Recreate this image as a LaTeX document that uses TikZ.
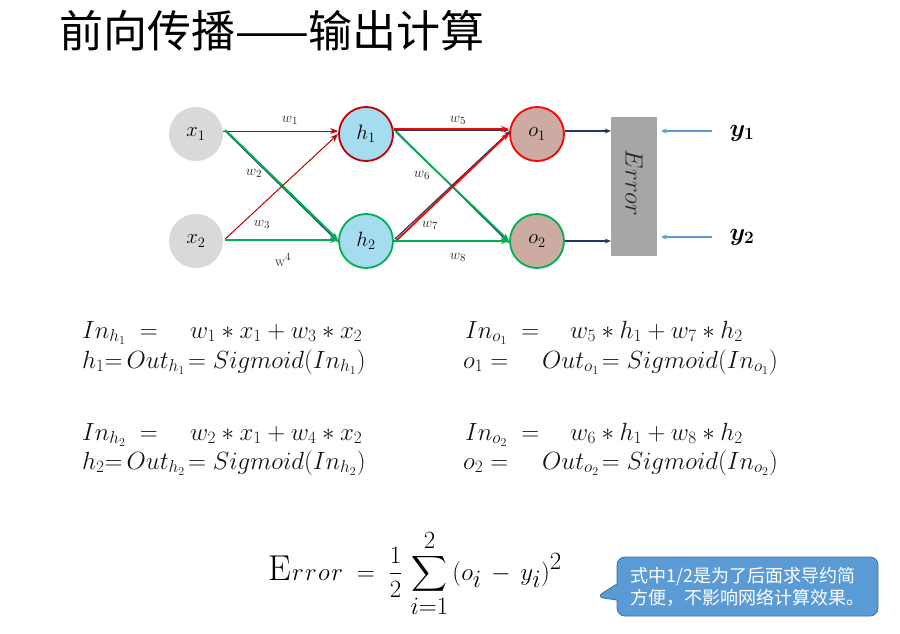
\documentclass[tikz,border=0pt]{standalone}
\usepackage{amsmath,bm}
\usepackage{fontspec}
\newfontfamily\cjk{Noto Sans CJK SC}
\usetikzlibrary{arrows.meta,shapes.callouts}
\definecolor{cgray}{RGB}{217,217,217}
\definecolor{hblue}{RGB}{166,220,240}
\definecolor{orose}{RGB}{204,172,162}
\definecolor{dred}{RGB}{192,0,0}
\definecolor{bred}{RGB}{255,0,0}
\definecolor{gr}{RGB}{0,176,80}
\definecolor{navy}{RGB}{31,56,100}
\definecolor{errgray}{RGB}{166,166,166}
\definecolor{lblue}{RGB}{91,155,213}
\definecolor{cobord}{RGB}{65,113,156}
\definecolor{eqtext}{RGB}{20,20,20}
\begin{document}
\begin{tikzpicture}[x=1pt,y=-1pt]
\tikzset{
  neuron/.style={circle, minimum size=54pt, inner sep=0pt, font=\fontsize{22}{26}\selectfont},
  wlab/.style={font=\fontsize{15}{17}\selectfont, text=black!85, inner sep=0pt},
  eq/.style={anchor=base west, inner sep=0pt, font=\fontsize{23}{27}\selectfont, text=eqtext},
  tipS/.style={-{Stealth[length=8pt,width=6pt]}},
  tipN/.style={-{Stealth[length=6pt,width=5pt]}},
}
\useasboundingbox (0,0) rectangle (900,634);
\fill[white] (0,0) rectangle (900,634);

% title
\node[anchor=west, inner sep=0pt, font=\cjk\fontsize{44}{48}\selectfont] (title) at (59,31) {前向传播——输出计算};

% neurons
\node[neuron, fill=cgray] (x1) at (196,134) {$x_1$};
\node[neuron, fill=cgray] (x2) at (196,241) {$x_2$};
\node[neuron, fill=hblue, draw=dred, line width=1.8pt] (h1) at (366,134) {$h_1$};
\node[neuron, fill=hblue, draw=gr, line width=1.8pt] (h2) at (366,241) {$h_2$};
\node[neuron, fill=orose, draw=bred, line width=1.8pt] (o1) at (537,134) {$o_1$};
\node[neuron, fill=orose, draw=gr, line width=1.8pt] (o2) at (537,241) {$o_2$};

% error box
\node[fill=errgray, minimum width=46pt, minimum height=139pt, inner sep=0pt] (err) at (634,186.5) {};
\node[rotate=-90, font=\fontsize{25}{29}\selectfont, text=black!85] (errt) at (634,183) {$Error$};

% targets
\node[font=\fontsize{26}{30}\selectfont] (y1) at (742,133) {$\bm{y_1}$};
\node[font=\fontsize{26}{30}\selectfont] (y2) at (742,237) {$\bm{y_2}$};
\coordinate (y1s) at (712,131);
\coordinate (y1e) at (661,131);
\coordinate (y2s) at (712,237);
\coordinate (y2e) at (661,237);
\draw[lblue, line width=1.8pt, tipN] (y1s) -- (y1e);
\draw[lblue, line width=1.8pt, tipN] (y2s) -- (y2e);

% outputs to error
\draw[navy, line width=1.2pt, tipN] (o1.east) ++(0,-3) -- (err.west |- 0,131);
\draw[navy, line width=1.2pt, tipN] (o2.east) -- (err.west |- 0,241);

% input -> hidden
\draw[dred, line width=1pt, tipS] ([yshift=3pt]x1.east) -- ([yshift=3pt]h1.west);
\draw[navy, line width=1.2pt, tipS] ([xshift=2pt,yshift=3pt]x1.east) -- ([yshift=-1pt]h2.west);
\draw[gr, line width=2pt, tipS] ([xshift=2pt,yshift=4pt]x1.east) -- ([yshift=1pt]h2.west);
\draw[dred, line width=1pt, tipS] ([xshift=2pt,yshift=2pt]x2.east) -- (h1.west);
\draw[gr, line width=2pt, tipS] ([xshift=2pt,yshift=1pt]x2.east) -- ([yshift=1pt]h2.west);

% hidden -> output
\draw[navy, line width=1pt, tipN] ([yshift=4pt]h1.east) -- ([yshift=4pt]o1.west);
\draw[bred, line width=2pt, tipS] ([yshift=5pt]h1.east) -- ([yshift=5pt]o1.west);
\draw[navy, line width=1.2pt, tipS] ([xshift=2pt,yshift=3pt]h1.east) -- ([yshift=-2pt]o2.west);
\draw[gr, line width=1.8pt, tipS] ([xshift=2pt,yshift=2pt]h1.east) -- (o2.west);
\draw[navy, line width=1.2pt, tipN] ([xshift=1pt,yshift=2pt]h2.east) -- ([xshift=1pt,yshift=3pt]o1.west);
\draw[bred, line width=1.8pt, tipS] ([xshift=2pt]h2.east) -- ([yshift=1pt]o1.west);
\draw[gr, line width=2pt, tipS] (h2.east) -- (o2.west);

% weight labels
\node[wlab] (w1) at (290,120) {$w_1$};
\node[wlab] (w2) at (254,173) {$w_2$};
\node[wlab] (w3) at (262,224) {$w_3$};
\node[wlab] (w4) at (283,260) {$\mathrm{w}^{4}$};
\node[wlab] (w5) at (458,120) {$w_5$};
\node[wlab] (w6) at (422,175) {$w_6$};
\node[wlab] (w7) at (430,225) {$w_7$};
\node[wlab] (w8) at (458,257) {$w_8$};

% equations left
\node[eq] (e1a) at (82,338) {$In_{h_1}\ =$};
\node[eq] (e1b) at (190,338) {$w_1\ast x_1+w_3\ast x_2$};
\node[eq] (e2) at (82,368) {$h_1{=}\,Out_{h_1}\!=Sigmoid(In_{h_1})$};
\node[eq] (e3a) at (82,440) {$In_{h_2}\ =$};
\node[eq] (e3b) at (190,440) {$w_2\ast x_1+w_4\ast x_2$};
\node[eq] (e4) at (82,469) {$h_2{=}\,Out_{h_2}\!=Sigmoid(In_{h_2})$};
% equations right
\node[eq] (f1a) at (465,338) {$In_{o_1}\ =$};
\node[eq] (f1b) at (570,338) {$w_5\ast h_1+w_7\ast h_2$};
\node[eq] (f2a) at (463,368) {$o_1 =$};
\node[eq] (f2b) at (542,368) {$Out_{o_1}\!=Sigmoid(In_{o_1})$};
\node[eq] (f3a) at (465,440) {$In_{o_2}\ =$};
\node[eq] (f3b) at (570,440) {$w_6\ast h_1+w_8\ast h_2$};
\node[eq] (f4a) at (463,469) {$o_2 =$};
\node[eq] (f4b) at (542,469) {$Out_{o_2}\!=Sigmoid(In_{o_2})$};

% error formula
\node[anchor=base west, inner sep=0pt, font=\fontsize{36}{41}\selectfont] (ef) at (268,580) {$\displaystyle \mathrm{E}\mkern1mu r\mkern1mu r\mkern1mu o\mkern1mu r\;=\;\frac{1}{2}\,\sum_{i=1}^{2}\,(o_i\,-\,y_i)^2$};

% callout
\node[rectangle callout, rounded corners=8pt, fill=lblue, draw=cobord, line width=0.8pt,
      minimum width=261pt, minimum height=59pt, inner sep=0pt,
      callout absolute pointer={(596,597)}, callout pointer width=16pt,
      align=left, text=white, font=\cjk\fontsize{18}{22}\selectfont] (note) at (747.5,586.5)
  {式中1/2是为了后面求导约简\\方便，不影响网络计算效果。};
\end{tikzpicture}
\end{document}
